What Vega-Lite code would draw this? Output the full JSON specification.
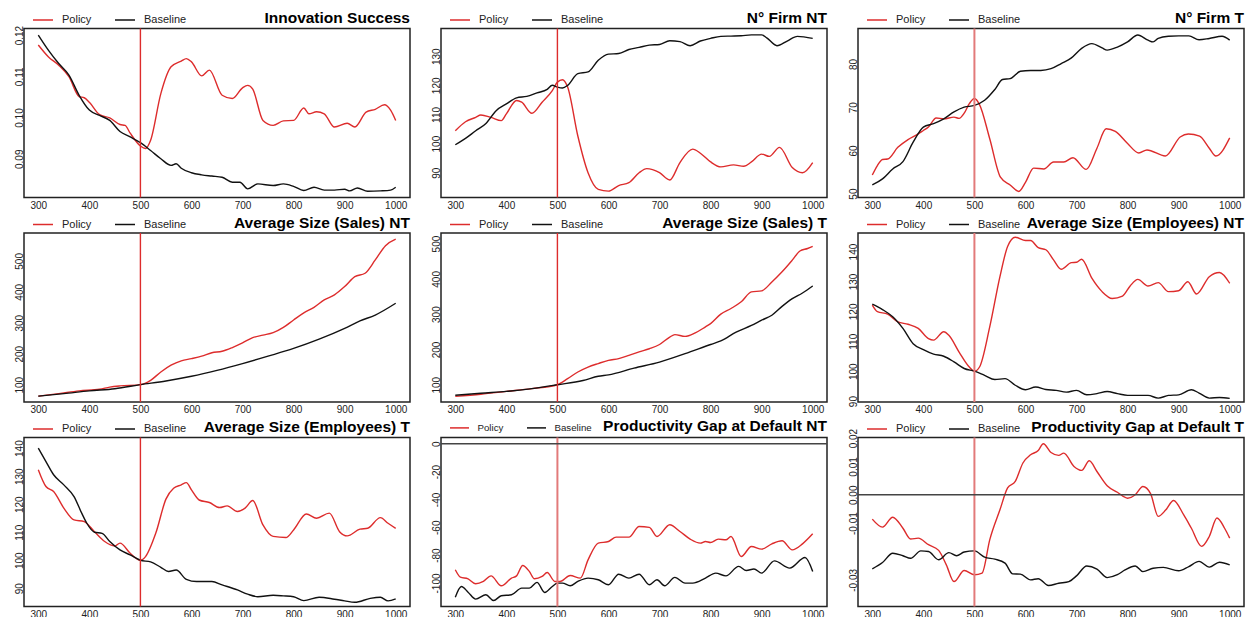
{
  "$schema": "https://vega.github.io/schema/vega-lite/v6.json",
  "background": "white",
  "autosize": {"type": "pad"},
  "padding": {"left": 13, "top": 7.5, "right": 0, "bottom": 0},
  "config": {
    "font": "Liberation Sans",
    "view": {"stroke": "#222222", "strokeWidth": 1.5},
    "axis": {"ticks": false, "domain": false, "grid": false, "labelFontSize": 10, "labelColor": "#222222", "labelFont": "Liberation Sans", "labelOverlap": false, "labelFlush": false},
    "axisX": {"labelPadding": 2.5, "format": "d"},
    "axisY": {"labelAngle": -90, "labelAlign": "center", "labelBaseline": "bottom", "labelPadding": 0},
    "legend": {"symbolType": "stroke", "symbolSize": 400, "symbolStrokeWidth": 1.5, "labelFontSize": 11, "labelFont": "Liberation Sans", "labelColor": "#222222", "labelOffset": 8, "columnPadding": 20, "padding": 0},
    "title": {"anchor": "end", "frame": "group", "fontSize": 15.5, "fontWeight": "bold", "font": "Liberation Sans", "color": "#000000", "offset": -17.5, "baseline": "alphabetic"}
  },
  "datasets": {
    "series": [
      {"p":1,"s":"Policy","t":300,"v":0.1176},{"p":1,"s":"Policy","t":320,"v":0.1147},{"p":1,"s":"Policy","t":340,"v":0.1127},{"p":1,"s":"Policy","t":360,"v":0.1099},{"p":1,"s":"Policy","t":380,"v":0.1051},{"p":1,"s":"Policy","t":390,"v":0.1048},{"p":1,"s":"Policy","t":400,"v":0.1037},{"p":1,"s":"Policy","t":420,"v":0.1007},{"p":1,"s":"Policy","t":440,"v":0.0999},{"p":1,"s":"Policy","t":460,"v":0.0983},{"p":1,"s":"Policy","t":470,"v":0.0981},{"p":1,"s":"Policy","t":480,"v":0.0962},{"p":1,"s":"Policy","t":500,"v":0.0931},{"p":1,"s":"Policy","t":510,"v":0.0925},{"p":1,"s":"Policy","t":520,"v":0.0945},{"p":1,"s":"Policy","t":540,"v":0.1058},{"p":1,"s":"Policy","t":560,"v":0.1123},{"p":1,"s":"Policy","t":580,"v":0.1137},{"p":1,"s":"Policy","t":590,"v":0.1143},{"p":1,"s":"Policy","t":600,"v":0.1135},{"p":1,"s":"Policy","t":620,"v":0.1101},{"p":1,"s":"Policy","t":635,"v":0.1115},{"p":1,"s":"Policy","t":660,"v":0.1054},{"p":1,"s":"Policy","t":680,"v":0.1046},{"p":1,"s":"Policy","t":700,"v":0.1072},{"p":1,"s":"Policy","t":710,"v":0.1078},{"p":1,"s":"Policy","t":720,"v":0.1069},{"p":1,"s":"Policy","t":740,"v":0.0993},{"p":1,"s":"Policy","t":760,"v":0.0981},{"p":1,"s":"Policy","t":780,"v":0.0992},{"p":1,"s":"Policy","t":800,"v":0.0993},{"p":1,"s":"Policy","t":820,"v":0.1023},{"p":1,"s":"Policy","t":830,"v":0.1009},{"p":1,"s":"Policy","t":845,"v":0.1014},{"p":1,"s":"Policy","t":860,"v":0.1009},{"p":1,"s":"Policy","t":880,"v":0.0977},{"p":1,"s":"Policy","t":905,"v":0.0986},{"p":1,"s":"Policy","t":920,"v":0.0977},{"p":1,"s":"Policy","t":942,"v":0.1013},{"p":1,"s":"Policy","t":960,"v":0.1020},{"p":1,"s":"Policy","t":978,"v":0.1031},{"p":1,"s":"Policy","t":990,"v":0.1018},{"p":1,"s":"Policy","t":1000,"v":0.0993},
      {"p":1,"s":"Baseline","t":300,"v":0.1200},{"p":1,"s":"Baseline","t":320,"v":0.1163},{"p":1,"s":"Baseline","t":340,"v":0.1131},{"p":1,"s":"Baseline","t":360,"v":0.1103},{"p":1,"s":"Baseline","t":380,"v":0.1054},{"p":1,"s":"Baseline","t":400,"v":0.1018},{"p":1,"s":"Baseline","t":420,"v":0.1005},{"p":1,"s":"Baseline","t":440,"v":0.0993},{"p":1,"s":"Baseline","t":460,"v":0.0966},{"p":1,"s":"Baseline","t":480,"v":0.0953},{"p":1,"s":"Baseline","t":500,"v":0.0939},{"p":1,"s":"Baseline","t":520,"v":0.0920},{"p":1,"s":"Baseline","t":540,"v":0.0900},{"p":1,"s":"Baseline","t":560,"v":0.0884},{"p":1,"s":"Baseline","t":570,"v":0.0888},{"p":1,"s":"Baseline","t":580,"v":0.0877},{"p":1,"s":"Baseline","t":600,"v":0.0866},{"p":1,"s":"Baseline","t":620,"v":0.0861},{"p":1,"s":"Baseline","t":640,"v":0.0858},{"p":1,"s":"Baseline","t":660,"v":0.0855},{"p":1,"s":"Baseline","t":680,"v":0.0843},{"p":1,"s":"Baseline","t":695,"v":0.0843},{"p":1,"s":"Baseline","t":710,"v":0.0827},{"p":1,"s":"Baseline","t":730,"v":0.0839},{"p":1,"s":"Baseline","t":760,"v":0.0835},{"p":1,"s":"Baseline","t":780,"v":0.0839},{"p":1,"s":"Baseline","t":800,"v":0.0833},{"p":1,"s":"Baseline","t":820,"v":0.0823},{"p":1,"s":"Baseline","t":840,"v":0.0831},{"p":1,"s":"Baseline","t":860,"v":0.0824},{"p":1,"s":"Baseline","t":880,"v":0.0824},{"p":1,"s":"Baseline","t":900,"v":0.0826},{"p":1,"s":"Baseline","t":910,"v":0.0822},{"p":1,"s":"Baseline","t":925,"v":0.0829},{"p":1,"s":"Baseline","t":945,"v":0.0821},{"p":1,"s":"Baseline","t":970,"v":0.0822},{"p":1,"s":"Baseline","t":990,"v":0.0824},{"p":1,"s":"Baseline","t":1000,"v":0.0831},

      {"p":2,"s":"Policy","t":300,"v":104.4},{"p":2,"s":"Policy","t":320,"v":107.5},{"p":2,"s":"Policy","t":340,"v":109.0},{"p":2,"s":"Policy","t":350,"v":109.8},{"p":2,"s":"Policy","t":370,"v":109.0},{"p":2,"s":"Policy","t":390,"v":107.9},{"p":2,"s":"Policy","t":400,"v":110.2},{"p":2,"s":"Policy","t":420,"v":114.8},{"p":2,"s":"Policy","t":430,"v":114.2},{"p":2,"s":"Policy","t":450,"v":110.4},{"p":2,"s":"Policy","t":470,"v":114.2},{"p":2,"s":"Policy","t":490,"v":118.2},{"p":2,"s":"Policy","t":500,"v":121.1},{"p":2,"s":"Policy","t":510,"v":121.9},{"p":2,"s":"Policy","t":520,"v":119.4},{"p":2,"s":"Policy","t":540,"v":102.6},{"p":2,"s":"Policy","t":560,"v":90.0},{"p":2,"s":"Policy","t":580,"v":84.3},{"p":2,"s":"Policy","t":600,"v":83.7},{"p":2,"s":"Policy","t":620,"v":85.6},{"p":2,"s":"Policy","t":640,"v":86.6},{"p":2,"s":"Policy","t":660,"v":90.0},{"p":2,"s":"Policy","t":675,"v":91.4},{"p":2,"s":"Policy","t":700,"v":90.0},{"p":2,"s":"Policy","t":720,"v":87.5},{"p":2,"s":"Policy","t":740,"v":93.5},{"p":2,"s":"Policy","t":765,"v":98.1},{"p":2,"s":"Policy","t":780,"v":96.7},{"p":2,"s":"Policy","t":800,"v":93.7},{"p":2,"s":"Policy","t":820,"v":92.0},{"p":2,"s":"Policy","t":845,"v":92.7},{"p":2,"s":"Policy","t":865,"v":92.2},{"p":2,"s":"Policy","t":880,"v":93.7},{"p":2,"s":"Policy","t":900,"v":96.4},{"p":2,"s":"Policy","t":915,"v":95.6},{"p":2,"s":"Policy","t":935,"v":98.7},{"p":2,"s":"Policy","t":960,"v":91.8},{"p":2,"s":"Policy","t":980,"v":90.0},{"p":2,"s":"Policy","t":1000,"v":93.5},
      {"p":2,"s":"Baseline","t":300,"v":99.6},{"p":2,"s":"Baseline","t":320,"v":101.8},{"p":2,"s":"Baseline","t":340,"v":104.4},{"p":2,"s":"Baseline","t":360,"v":106.9},{"p":2,"s":"Baseline","t":380,"v":111.3},{"p":2,"s":"Baseline","t":400,"v":113.6},{"p":2,"s":"Baseline","t":420,"v":115.7},{"p":2,"s":"Baseline","t":440,"v":116.2},{"p":2,"s":"Baseline","t":460,"v":117.4},{"p":2,"s":"Baseline","t":480,"v":118.6},{"p":2,"s":"Baseline","t":490,"v":120.0},{"p":2,"s":"Baseline","t":500,"v":119.4},{"p":2,"s":"Baseline","t":510,"v":119.1},{"p":2,"s":"Baseline","t":520,"v":120.0},{"p":2,"s":"Baseline","t":540,"v":124.0},{"p":2,"s":"Baseline","t":560,"v":124.6},{"p":2,"s":"Baseline","t":580,"v":128.6},{"p":2,"s":"Baseline","t":600,"v":130.7},{"p":2,"s":"Baseline","t":620,"v":130.9},{"p":2,"s":"Baseline","t":640,"v":132.3},{"p":2,"s":"Baseline","t":660,"v":133.0},{"p":2,"s":"Baseline","t":680,"v":133.8},{"p":2,"s":"Baseline","t":700,"v":134.0},{"p":2,"s":"Baseline","t":720,"v":135.3},{"p":2,"s":"Baseline","t":740,"v":135.0},{"p":2,"s":"Baseline","t":760,"v":133.6},{"p":2,"s":"Baseline","t":780,"v":135.2},{"p":2,"s":"Baseline","t":800,"v":136.1},{"p":2,"s":"Baseline","t":820,"v":136.8},{"p":2,"s":"Baseline","t":840,"v":136.9},{"p":2,"s":"Baseline","t":860,"v":137.0},{"p":2,"s":"Baseline","t":880,"v":137.3},{"p":2,"s":"Baseline","t":900,"v":137.3},{"p":2,"s":"Baseline","t":910,"v":136.3},{"p":2,"s":"Baseline","t":930,"v":133.6},{"p":2,"s":"Baseline","t":950,"v":135.2},{"p":2,"s":"Baseline","t":970,"v":136.8},{"p":2,"s":"Baseline","t":1000,"v":136.1},

      {"p":3,"s":"Policy","t":300,"v":54.3},{"p":3,"s":"Policy","t":310,"v":56.5},{"p":3,"s":"Policy","t":320,"v":57.9},{"p":3,"s":"Policy","t":330,"v":58.0},{"p":3,"s":"Policy","t":350,"v":60.7},{"p":3,"s":"Policy","t":370,"v":62.5},{"p":3,"s":"Policy","t":390,"v":63.8},{"p":3,"s":"Policy","t":400,"v":64.6},{"p":3,"s":"Policy","t":410,"v":65.4},{"p":3,"s":"Policy","t":425,"v":67.5},{"p":3,"s":"Policy","t":440,"v":67.3},{"p":3,"s":"Policy","t":460,"v":67.7},{"p":3,"s":"Policy","t":470,"v":67.4},{"p":3,"s":"Policy","t":480,"v":68.6},{"p":3,"s":"Policy","t":490,"v":70.8},{"p":3,"s":"Policy","t":500,"v":72.0},{"p":3,"s":"Policy","t":510,"v":70.6},{"p":3,"s":"Policy","t":530,"v":62.7},{"p":3,"s":"Policy","t":551,"v":53.8},{"p":3,"s":"Policy","t":570,"v":52.0},{"p":3,"s":"Policy","t":587,"v":50.5},{"p":3,"s":"Policy","t":600,"v":52.6},{"p":3,"s":"Policy","t":616,"v":55.9},{"p":3,"s":"Policy","t":636,"v":55.7},{"p":3,"s":"Policy","t":655,"v":57.3},{"p":3,"s":"Policy","t":675,"v":57.3},{"p":3,"s":"Policy","t":693,"v":58.3},{"p":3,"s":"Policy","t":719,"v":55.6},{"p":3,"s":"Policy","t":740,"v":60.5},{"p":3,"s":"Policy","t":758,"v":65.0},{"p":3,"s":"Policy","t":776,"v":64.4},{"p":3,"s":"Policy","t":800,"v":61.6},{"p":3,"s":"Policy","t":822,"v":59.4},{"p":3,"s":"Policy","t":838,"v":60.1},{"p":3,"s":"Policy","t":874,"v":58.7},{"p":3,"s":"Policy","t":903,"v":63.1},{"p":3,"s":"Policy","t":919,"v":63.8},{"p":3,"s":"Policy","t":941,"v":63.3},{"p":3,"s":"Policy","t":960,"v":60.5},{"p":3,"s":"Policy","t":973,"v":58.7},{"p":3,"s":"Policy","t":1000,"v":62.9},
      {"p":3,"s":"Baseline","t":300,"v":52.0},{"p":3,"s":"Baseline","t":320,"v":53.4},{"p":3,"s":"Baseline","t":340,"v":55.7},{"p":3,"s":"Baseline","t":360,"v":57.4},{"p":3,"s":"Baseline","t":380,"v":61.9},{"p":3,"s":"Baseline","t":400,"v":65.4},{"p":3,"s":"Baseline","t":420,"v":66.2},{"p":3,"s":"Baseline","t":440,"v":67.3},{"p":3,"s":"Baseline","t":460,"v":68.9},{"p":3,"s":"Baseline","t":480,"v":70.0},{"p":3,"s":"Baseline","t":500,"v":70.4},{"p":3,"s":"Baseline","t":520,"v":71.6},{"p":3,"s":"Baseline","t":540,"v":74.1},{"p":3,"s":"Baseline","t":555,"v":76.4},{"p":3,"s":"Baseline","t":570,"v":76.6},{"p":3,"s":"Baseline","t":590,"v":78.3},{"p":3,"s":"Baseline","t":610,"v":78.5},{"p":3,"s":"Baseline","t":630,"v":78.5},{"p":3,"s":"Baseline","t":650,"v":78.9},{"p":3,"s":"Baseline","t":670,"v":80.1},{"p":3,"s":"Baseline","t":690,"v":81.4},{"p":3,"s":"Baseline","t":710,"v":83.6},{"p":3,"s":"Baseline","t":730,"v":84.7},{"p":3,"s":"Baseline","t":750,"v":83.7},{"p":3,"s":"Baseline","t":760,"v":83.2},{"p":3,"s":"Baseline","t":780,"v":83.9},{"p":3,"s":"Baseline","t":800,"v":85.1},{"p":3,"s":"Baseline","t":820,"v":86.7},{"p":3,"s":"Baseline","t":840,"v":85.5},{"p":3,"s":"Baseline","t":850,"v":85.1},{"p":3,"s":"Baseline","t":860,"v":85.9},{"p":3,"s":"Baseline","t":880,"v":86.4},{"p":3,"s":"Baseline","t":900,"v":86.5},{"p":3,"s":"Baseline","t":920,"v":86.5},{"p":3,"s":"Baseline","t":940,"v":85.6},{"p":3,"s":"Baseline","t":960,"v":85.9},{"p":3,"s":"Baseline","t":985,"v":86.4},{"p":3,"s":"Baseline","t":1000,"v":85.5},

      {"p":4,"s":"Policy","t":300,"v":63},{"p":4,"s":"Policy","t":340,"v":71},{"p":4,"s":"Policy","t":380,"v":80},{"p":4,"s":"Policy","t":420,"v":85},{"p":4,"s":"Policy","t":440,"v":92},{"p":4,"s":"Policy","t":460,"v":96},{"p":4,"s":"Policy","t":500,"v":100},{"p":4,"s":"Policy","t":520,"v":114},{"p":4,"s":"Policy","t":540,"v":141},{"p":4,"s":"Policy","t":560,"v":163},{"p":4,"s":"Policy","t":580,"v":177},{"p":4,"s":"Policy","t":600,"v":184},{"p":4,"s":"Policy","t":620,"v":192},{"p":4,"s":"Policy","t":640,"v":203},{"p":4,"s":"Policy","t":660,"v":208},{"p":4,"s":"Policy","t":680,"v":220},{"p":4,"s":"Policy","t":700,"v":235},{"p":4,"s":"Policy","t":720,"v":252},{"p":4,"s":"Policy","t":740,"v":260},{"p":4,"s":"Policy","t":760,"v":268},{"p":4,"s":"Policy","t":780,"v":285},{"p":4,"s":"Policy","t":800,"v":309},{"p":4,"s":"Policy","t":820,"v":332},{"p":4,"s":"Policy","t":840,"v":350},{"p":4,"s":"Policy","t":860,"v":374},{"p":4,"s":"Policy","t":880,"v":390},{"p":4,"s":"Policy","t":900,"v":417},{"p":4,"s":"Policy","t":920,"v":449},{"p":4,"s":"Policy","t":940,"v":460},{"p":4,"s":"Policy","t":960,"v":503},{"p":4,"s":"Policy","t":980,"v":549},{"p":4,"s":"Policy","t":1000,"v":570},
      {"p":4,"s":"Baseline","t":300,"v":63},{"p":4,"s":"Baseline","t":350,"v":71},{"p":4,"s":"Baseline","t":400,"v":80},{"p":4,"s":"Baseline","t":450,"v":87},{"p":4,"s":"Baseline","t":500,"v":100},{"p":4,"s":"Baseline","t":550,"v":112},{"p":4,"s":"Baseline","t":600,"v":127},{"p":4,"s":"Baseline","t":650,"v":146},{"p":4,"s":"Baseline","t":700,"v":168},{"p":4,"s":"Baseline","t":750,"v":192},{"p":4,"s":"Baseline","t":800,"v":217},{"p":4,"s":"Baseline","t":850,"v":247},{"p":4,"s":"Baseline","t":900,"v":282},{"p":4,"s":"Baseline","t":930,"v":306},{"p":4,"s":"Baseline","t":960,"v":325},{"p":4,"s":"Baseline","t":1000,"v":363},

      {"p":5,"s":"Policy","t":300,"v":67},{"p":5,"s":"Policy","t":350,"v":73},{"p":5,"s":"Policy","t":400,"v":81},{"p":5,"s":"Policy","t":450,"v":89},{"p":5,"s":"Policy","t":500,"v":100},{"p":5,"s":"Policy","t":520,"v":117},{"p":5,"s":"Policy","t":540,"v":136},{"p":5,"s":"Policy","t":560,"v":150},{"p":5,"s":"Policy","t":580,"v":160},{"p":5,"s":"Policy","t":600,"v":169},{"p":5,"s":"Policy","t":620,"v":174},{"p":5,"s":"Policy","t":640,"v":183},{"p":5,"s":"Policy","t":660,"v":193},{"p":5,"s":"Policy","t":680,"v":202},{"p":5,"s":"Policy","t":700,"v":214},{"p":5,"s":"Policy","t":720,"v":235},{"p":5,"s":"Policy","t":730,"v":242},{"p":5,"s":"Policy","t":750,"v":237},{"p":5,"s":"Policy","t":770,"v":247},{"p":5,"s":"Policy","t":790,"v":264},{"p":5,"s":"Policy","t":800,"v":273},{"p":5,"s":"Policy","t":820,"v":300},{"p":5,"s":"Policy","t":840,"v":316},{"p":5,"s":"Policy","t":860,"v":335},{"p":5,"s":"Policy","t":880,"v":363},{"p":5,"s":"Policy","t":900,"v":366},{"p":5,"s":"Policy","t":920,"v":391},{"p":5,"s":"Policy","t":940,"v":420},{"p":5,"s":"Policy","t":960,"v":453},{"p":5,"s":"Policy","t":975,"v":479},{"p":5,"s":"Policy","t":990,"v":486},{"p":5,"s":"Policy","t":1000,"v":492},
      {"p":5,"s":"Baseline","t":300,"v":70},{"p":5,"s":"Baseline","t":350,"v":76},{"p":5,"s":"Baseline","t":400,"v":81},{"p":5,"s":"Baseline","t":450,"v":89},{"p":5,"s":"Baseline","t":500,"v":100},{"p":5,"s":"Baseline","t":550,"v":112},{"p":5,"s":"Baseline","t":580,"v":124},{"p":5,"s":"Baseline","t":600,"v":128},{"p":5,"s":"Baseline","t":650,"v":147},{"p":5,"s":"Baseline","t":700,"v":164},{"p":5,"s":"Baseline","t":750,"v":188},{"p":5,"s":"Baseline","t":800,"v":214},{"p":5,"s":"Baseline","t":820,"v":224},{"p":5,"s":"Baseline","t":850,"v":249},{"p":5,"s":"Baseline","t":880,"v":268},{"p":5,"s":"Baseline","t":900,"v":283},{"p":5,"s":"Baseline","t":920,"v":297},{"p":5,"s":"Baseline","t":940,"v":322},{"p":5,"s":"Baseline","t":960,"v":344},{"p":5,"s":"Baseline","t":980,"v":360},{"p":5,"s":"Baseline","t":1000,"v":380},

      {"p":6,"s":"Policy","t":300,"v":122.1},{"p":6,"s":"Policy","t":310,"v":119.9},{"p":6,"s":"Policy","t":330,"v":119.1},{"p":6,"s":"Policy","t":350,"v":116.5},{"p":6,"s":"Policy","t":370,"v":115.7},{"p":6,"s":"Policy","t":390,"v":114.3},{"p":6,"s":"Policy","t":410,"v":110.9},{"p":6,"s":"Policy","t":420,"v":110.4},{"p":6,"s":"Policy","t":440,"v":113.2},{"p":6,"s":"Policy","t":450,"v":112.0},{"p":6,"s":"Policy","t":470,"v":106.4},{"p":6,"s":"Policy","t":490,"v":101.4},{"p":6,"s":"Policy","t":500,"v":100.0},{"p":6,"s":"Policy","t":510,"v":101.4},{"p":6,"s":"Policy","t":530,"v":114.8},{"p":6,"s":"Policy","t":550,"v":131.6},{"p":6,"s":"Policy","t":565,"v":141.7},{"p":6,"s":"Policy","t":580,"v":144.8},{"p":6,"s":"Policy","t":600,"v":143.7},{"p":6,"s":"Policy","t":610,"v":143.7},{"p":6,"s":"Policy","t":625,"v":141.3},{"p":6,"s":"Policy","t":640,"v":140.6},{"p":6,"s":"Policy","t":655,"v":137.2},{"p":6,"s":"Policy","t":670,"v":134.1},{"p":6,"s":"Policy","t":690,"v":136.3},{"p":6,"s":"Policy","t":700,"v":136.4},{"p":6,"s":"Policy","t":710,"v":137.4},{"p":6,"s":"Policy","t":730,"v":131.1},{"p":6,"s":"Policy","t":750,"v":126.6},{"p":6,"s":"Policy","t":770,"v":124.3},{"p":6,"s":"Policy","t":790,"v":125.1},{"p":6,"s":"Policy","t":805,"v":128.5},{"p":6,"s":"Policy","t":820,"v":130.7},{"p":6,"s":"Policy","t":840,"v":128.5},{"p":6,"s":"Policy","t":860,"v":129.6},{"p":6,"s":"Policy","t":880,"v":126.6},{"p":6,"s":"Policy","t":900,"v":126.9},{"p":6,"s":"Policy","t":918,"v":129.9},{"p":6,"s":"Policy","t":935,"v":125.8},{"p":6,"s":"Policy","t":960,"v":131.6},{"p":6,"s":"Policy","t":980,"v":133.0},{"p":6,"s":"Policy","t":1000,"v":129.4},
      {"p":6,"s":"Baseline","t":300,"v":122.4},{"p":6,"s":"Baseline","t":320,"v":120.6},{"p":6,"s":"Baseline","t":340,"v":118.2},{"p":6,"s":"Baseline","t":360,"v":114.3},{"p":6,"s":"Baseline","t":380,"v":109.2},{"p":6,"s":"Baseline","t":400,"v":107.2},{"p":6,"s":"Baseline","t":420,"v":105.7},{"p":6,"s":"Baseline","t":440,"v":105.0},{"p":6,"s":"Baseline","t":460,"v":103.1},{"p":6,"s":"Baseline","t":480,"v":100.9},{"p":6,"s":"Baseline","t":500,"v":100.0},{"p":6,"s":"Baseline","t":520,"v":98.6},{"p":6,"s":"Baseline","t":540,"v":97.2},{"p":6,"s":"Baseline","t":560,"v":97.5},{"p":6,"s":"Baseline","t":580,"v":95.3},{"p":6,"s":"Baseline","t":600,"v":93.8},{"p":6,"s":"Baseline","t":620,"v":94.7},{"p":6,"s":"Baseline","t":640,"v":93.9},{"p":6,"s":"Baseline","t":660,"v":93.6},{"p":6,"s":"Baseline","t":680,"v":93.0},{"p":6,"s":"Baseline","t":700,"v":93.6},{"p":6,"s":"Baseline","t":720,"v":92.1},{"p":6,"s":"Baseline","t":740,"v":92.5},{"p":6,"s":"Baseline","t":760,"v":93.2},{"p":6,"s":"Baseline","t":780,"v":92.5},{"p":6,"s":"Baseline","t":800,"v":91.9},{"p":6,"s":"Baseline","t":820,"v":91.9},{"p":6,"s":"Baseline","t":840,"v":91.9},{"p":6,"s":"Baseline","t":860,"v":91.0},{"p":6,"s":"Baseline","t":880,"v":91.9},{"p":6,"s":"Baseline","t":900,"v":92.1},{"p":6,"s":"Baseline","t":925,"v":93.8},{"p":6,"s":"Baseline","t":940,"v":92.7},{"p":6,"s":"Baseline","t":960,"v":91.0},{"p":6,"s":"Baseline","t":980,"v":91.2},{"p":6,"s":"Baseline","t":1000,"v":90.9},

      {"p":7,"s":"Policy","t":300,"v":132.3},{"p":7,"s":"Policy","t":315,"v":126.3},{"p":7,"s":"Policy","t":330,"v":124.5},{"p":7,"s":"Policy","t":350,"v":118.6},{"p":7,"s":"Policy","t":370,"v":114.4},{"p":7,"s":"Policy","t":390,"v":113.8},{"p":7,"s":"Policy","t":410,"v":110.2},{"p":7,"s":"Policy","t":430,"v":106.7},{"p":7,"s":"Policy","t":450,"v":105.1},{"p":7,"s":"Policy","t":460,"v":106.1},{"p":7,"s":"Policy","t":480,"v":102.5},{"p":7,"s":"Policy","t":500,"v":100.0},{"p":7,"s":"Policy","t":510,"v":101.3},{"p":7,"s":"Policy","t":530,"v":109.6},{"p":7,"s":"Policy","t":550,"v":121.8},{"p":7,"s":"Policy","t":565,"v":125.7},{"p":7,"s":"Policy","t":580,"v":126.9},{"p":7,"s":"Policy","t":590,"v":127.7},{"p":7,"s":"Policy","t":600,"v":125.1},{"p":7,"s":"Policy","t":615,"v":121.5},{"p":7,"s":"Policy","t":635,"v":120.6},{"p":7,"s":"Policy","t":655,"v":118.8},{"p":7,"s":"Policy","t":670,"v":119.4},{"p":7,"s":"Policy","t":690,"v":117.4},{"p":7,"s":"Policy","t":705,"v":118.6},{"p":7,"s":"Policy","t":720,"v":121.3},{"p":7,"s":"Policy","t":740,"v":112.6},{"p":7,"s":"Policy","t":760,"v":108.5},{"p":7,"s":"Policy","t":785,"v":108.1},{"p":7,"s":"Policy","t":800,"v":110.8},{"p":7,"s":"Policy","t":825,"v":116.5},{"p":7,"s":"Policy","t":845,"v":115.0},{"p":7,"s":"Policy","t":870,"v":116.8},{"p":7,"s":"Policy","t":890,"v":110.2},{"p":7,"s":"Policy","t":905,"v":108.7},{"p":7,"s":"Policy","t":930,"v":111.1},{"p":7,"s":"Policy","t":945,"v":111.4},{"p":7,"s":"Policy","t":970,"v":115.2},{"p":7,"s":"Policy","t":985,"v":113.2},{"p":7,"s":"Policy","t":1000,"v":111.4},
      {"p":7,"s":"Baseline","t":300,"v":140.0},{"p":7,"s":"Baseline","t":315,"v":135.2},{"p":7,"s":"Baseline","t":330,"v":130.5},{"p":7,"s":"Baseline","t":350,"v":126.9},{"p":7,"s":"Baseline","t":370,"v":122.7},{"p":7,"s":"Baseline","t":385,"v":116.8},{"p":7,"s":"Baseline","t":395,"v":113.2},{"p":7,"s":"Baseline","t":410,"v":110.0},{"p":7,"s":"Baseline","t":425,"v":109.6},{"p":7,"s":"Baseline","t":440,"v":106.7},{"p":7,"s":"Baseline","t":460,"v":103.7},{"p":7,"s":"Baseline","t":480,"v":101.9},{"p":7,"s":"Baseline","t":500,"v":100.0},{"p":7,"s":"Baseline","t":520,"v":99.4},{"p":7,"s":"Baseline","t":540,"v":97.5},{"p":7,"s":"Baseline","t":555,"v":96.0},{"p":7,"s":"Baseline","t":570,"v":96.5},{"p":7,"s":"Baseline","t":590,"v":93.2},{"p":7,"s":"Baseline","t":610,"v":92.4},{"p":7,"s":"Baseline","t":640,"v":92.4},{"p":7,"s":"Baseline","t":660,"v":91.2},{"p":7,"s":"Baseline","t":690,"v":89.4},{"p":7,"s":"Baseline","t":710,"v":87.9},{"p":7,"s":"Baseline","t":730,"v":87.0},{"p":7,"s":"Baseline","t":760,"v":87.5},{"p":7,"s":"Baseline","t":780,"v":87.3},{"p":7,"s":"Baseline","t":800,"v":87.0},{"p":7,"s":"Baseline","t":820,"v":85.6},{"p":7,"s":"Baseline","t":850,"v":86.8},{"p":7,"s":"Baseline","t":880,"v":86.1},{"p":7,"s":"Baseline","t":900,"v":85.5},{"p":7,"s":"Baseline","t":920,"v":85.0},{"p":7,"s":"Baseline","t":950,"v":86.4},{"p":7,"s":"Baseline","t":970,"v":86.8},{"p":7,"s":"Baseline","t":985,"v":85.5},{"p":7,"s":"Baseline","t":1000,"v":86.2},

      {"p":8,"s":"Policy","t":300,"v":-90.5},{"p":8,"s":"Policy","t":310,"v":-95.8},{"p":8,"s":"Policy","t":325,"v":-97.0},{"p":8,"s":"Policy","t":340,"v":-100.6},{"p":8,"s":"Policy","t":355,"v":-98.9},{"p":8,"s":"Policy","t":370,"v":-94.9},{"p":8,"s":"Policy","t":390,"v":-102.0},{"p":8,"s":"Policy","t":410,"v":-96.5},{"p":8,"s":"Policy","t":420,"v":-94.9},{"p":8,"s":"Policy","t":432,"v":-87.4},{"p":8,"s":"Policy","t":445,"v":-91.7},{"p":8,"s":"Policy","t":455,"v":-97.0},{"p":8,"s":"Policy","t":470,"v":-95.3},{"p":8,"s":"Policy","t":480,"v":-92.5},{"p":8,"s":"Policy","t":495,"v":-98.9},{"p":8,"s":"Policy","t":505,"v":-98.9},{"p":8,"s":"Policy","t":525,"v":-94.6},{"p":8,"s":"Policy","t":545,"v":-96.5},{"p":8,"s":"Policy","t":560,"v":-83.4},{"p":8,"s":"Policy","t":580,"v":-71.4},{"p":8,"s":"Policy","t":600,"v":-70.2},{"p":8,"s":"Policy","t":615,"v":-67.1},{"p":8,"s":"Policy","t":640,"v":-67.1},{"p":8,"s":"Policy","t":660,"v":-59.4},{"p":8,"s":"Policy","t":680,"v":-60.1},{"p":8,"s":"Policy","t":695,"v":-66.6},{"p":8,"s":"Policy","t":720,"v":-58.2},{"p":8,"s":"Policy","t":740,"v":-63.0},{"p":8,"s":"Policy","t":760,"v":-68.5},{"p":8,"s":"Policy","t":780,"v":-71.4},{"p":8,"s":"Policy","t":790,"v":-70.2},{"p":8,"s":"Policy","t":800,"v":-70.9},{"p":8,"s":"Policy","t":815,"v":-68.5},{"p":8,"s":"Policy","t":830,"v":-69.0},{"p":8,"s":"Policy","t":840,"v":-66.6},{"p":8,"s":"Policy","t":860,"v":-81.0},{"p":8,"s":"Policy","t":880,"v":-73.8},{"p":8,"s":"Policy","t":900,"v":-75.7},{"p":8,"s":"Policy","t":920,"v":-71.9},{"p":8,"s":"Policy","t":940,"v":-69.7},{"p":8,"s":"Policy","t":960,"v":-76.2},{"p":8,"s":"Policy","t":980,"v":-71.9},{"p":8,"s":"Policy","t":1000,"v":-64.7},
      {"p":8,"s":"Baseline","t":300,"v":-110.2},{"p":8,"s":"Baseline","t":312,"v":-102.5},{"p":8,"s":"Baseline","t":325,"v":-106.6},{"p":8,"s":"Baseline","t":340,"v":-111.6},{"p":8,"s":"Baseline","t":360,"v":-108.5},{"p":8,"s":"Baseline","t":375,"v":-112.6},{"p":8,"s":"Baseline","t":390,"v":-109.2},{"p":8,"s":"Baseline","t":410,"v":-108.5},{"p":8,"s":"Baseline","t":430,"v":-103.7},{"p":8,"s":"Baseline","t":445,"v":-103.7},{"p":8,"s":"Baseline","t":460,"v":-99.6},{"p":8,"s":"Baseline","t":475,"v":-106.8},{"p":8,"s":"Baseline","t":490,"v":-102.5},{"p":8,"s":"Baseline","t":500,"v":-100.1},{"p":8,"s":"Baseline","t":510,"v":-100.1},{"p":8,"s":"Baseline","t":525,"v":-102.0},{"p":8,"s":"Baseline","t":540,"v":-98.9},{"p":8,"s":"Baseline","t":560,"v":-96.5},{"p":8,"s":"Baseline","t":580,"v":-97.7},{"p":8,"s":"Baseline","t":600,"v":-101.3},{"p":8,"s":"Baseline","t":620,"v":-93.7},{"p":8,"s":"Baseline","t":640,"v":-96.5},{"p":8,"s":"Baseline","t":660,"v":-93.7},{"p":8,"s":"Baseline","t":680,"v":-101.3},{"p":8,"s":"Baseline","t":695,"v":-97.7},{"p":8,"s":"Baseline","t":710,"v":-102.0},{"p":8,"s":"Baseline","t":730,"v":-96.0},{"p":8,"s":"Baseline","t":750,"v":-100.1},{"p":8,"s":"Baseline","t":765,"v":-100.1},{"p":8,"s":"Baseline","t":790,"v":-96.5},{"p":8,"s":"Baseline","t":810,"v":-92.9},{"p":8,"s":"Baseline","t":830,"v":-94.9},{"p":8,"s":"Baseline","t":855,"v":-88.1},{"p":8,"s":"Baseline","t":870,"v":-91.0},{"p":8,"s":"Baseline","t":885,"v":-90.0},{"p":8,"s":"Baseline","t":900,"v":-92.9},{"p":8,"s":"Baseline","t":925,"v":-84.1},{"p":8,"s":"Baseline","t":955,"v":-89.3},{"p":8,"s":"Baseline","t":985,"v":-81.7},{"p":8,"s":"Baseline","t":1000,"v":-91.7},

      {"p":9,"s":"Policy","t":300,"v":-0.0086},{"p":9,"s":"Policy","t":320,"v":-0.0114},{"p":9,"s":"Policy","t":340,"v":-0.0079},{"p":9,"s":"Policy","t":360,"v":-0.0118},{"p":9,"s":"Policy","t":375,"v":-0.0156},{"p":9,"s":"Policy","t":390,"v":-0.0153},{"p":9,"s":"Policy","t":410,"v":-0.0176},{"p":9,"s":"Policy","t":430,"v":-0.0196},{"p":9,"s":"Policy","t":445,"v":-0.0247},{"p":9,"s":"Policy","t":460,"v":-0.0306},{"p":9,"s":"Policy","t":480,"v":-0.0267},{"p":9,"s":"Policy","t":500,"v":-0.0282},{"p":9,"s":"Policy","t":515,"v":-0.0276},{"p":9,"s":"Policy","t":530,"v":-0.0159},{"p":9,"s":"Policy","t":550,"v":-0.0053},{"p":9,"s":"Policy","t":565,"v":0.0024},{"p":9,"s":"Policy","t":580,"v":0.0047},{"p":9,"s":"Policy","t":595,"v":0.0112},{"p":9,"s":"Policy","t":610,"v":0.0141},{"p":9,"s":"Policy","t":625,"v":0.0156},{"p":9,"s":"Policy","t":635,"v":0.0180},{"p":9,"s":"Policy","t":650,"v":0.0149},{"p":9,"s":"Policy","t":665,"v":0.0139},{"p":9,"s":"Policy","t":675,"v":0.0147},{"p":9,"s":"Policy","t":695,"v":0.0100},{"p":9,"s":"Policy","t":710,"v":0.0086},{"p":9,"s":"Policy","t":725,"v":0.0120},{"p":9,"s":"Policy","t":740,"v":0.0082},{"p":9,"s":"Policy","t":760,"v":0.0032},{"p":9,"s":"Policy","t":780,"v":0.0009},{"p":9,"s":"Policy","t":800,"v":-0.0012},{"p":9,"s":"Policy","t":815,"v":0.0000},{"p":9,"s":"Policy","t":830,"v":0.0029},{"p":9,"s":"Policy","t":845,"v":0.0004},{"p":9,"s":"Policy","t":860,"v":-0.0076},{"p":9,"s":"Policy","t":875,"v":-0.0053},{"p":9,"s":"Policy","t":890,"v":-0.0020},{"p":9,"s":"Policy","t":910,"v":-0.0071},{"p":9,"s":"Policy","t":925,"v":-0.0118},{"p":9,"s":"Policy","t":945,"v":-0.0182},{"p":9,"s":"Policy","t":960,"v":-0.0147},{"p":9,"s":"Policy","t":975,"v":-0.0082},{"p":9,"s":"Policy","t":990,"v":-0.0118},{"p":9,"s":"Policy","t":1000,"v":-0.0153},
      {"p":9,"s":"Baseline","t":300,"v":-0.0261},{"p":9,"s":"Baseline","t":320,"v":-0.0239},{"p":9,"s":"Baseline","t":340,"v":-0.0206},{"p":9,"s":"Baseline","t":360,"v":-0.0215},{"p":9,"s":"Baseline","t":375,"v":-0.0224},{"p":9,"s":"Baseline","t":395,"v":-0.0198},{"p":9,"s":"Baseline","t":410,"v":-0.0200},{"p":9,"s":"Baseline","t":430,"v":-0.0229},{"p":9,"s":"Baseline","t":450,"v":-0.0204},{"p":9,"s":"Baseline","t":465,"v":-0.0215},{"p":9,"s":"Baseline","t":480,"v":-0.0202},{"p":9,"s":"Baseline","t":500,"v":-0.0198},{"p":9,"s":"Baseline","t":520,"v":-0.0220},{"p":9,"s":"Baseline","t":540,"v":-0.0227},{"p":9,"s":"Baseline","t":560,"v":-0.0241},{"p":9,"s":"Baseline","t":575,"v":-0.0279},{"p":9,"s":"Baseline","t":590,"v":-0.0280},{"p":9,"s":"Baseline","t":610,"v":-0.0300},{"p":9,"s":"Baseline","t":625,"v":-0.0296},{"p":9,"s":"Baseline","t":645,"v":-0.0320},{"p":9,"s":"Baseline","t":665,"v":-0.0312},{"p":9,"s":"Baseline","t":685,"v":-0.0306},{"p":9,"s":"Baseline","t":700,"v":-0.0286},{"p":9,"s":"Baseline","t":720,"v":-0.0251},{"p":9,"s":"Baseline","t":740,"v":-0.0262},{"p":9,"s":"Baseline","t":760,"v":-0.0292},{"p":9,"s":"Baseline","t":780,"v":-0.0282},{"p":9,"s":"Baseline","t":795,"v":-0.0265},{"p":9,"s":"Baseline","t":815,"v":-0.0251},{"p":9,"s":"Baseline","t":830,"v":-0.0271},{"p":9,"s":"Baseline","t":850,"v":-0.0259},{"p":9,"s":"Baseline","t":870,"v":-0.0256},{"p":9,"s":"Baseline","t":900,"v":-0.0268},{"p":9,"s":"Baseline","t":920,"v":-0.0253},{"p":9,"s":"Baseline","t":940,"v":-0.0235},{"p":9,"s":"Baseline","t":960,"v":-0.0255},{"p":9,"s":"Baseline","t":980,"v":-0.0238},{"p":9,"s":"Baseline","t":1000,"v":-0.0247}
    ]
  },
  "columns": 3,
  "bounds": "flush",
  "spacing": {"row": 35.5, "column": 31},
  "resolve": {"scale": {"x": "independent", "y": "independent", "color": "independent"}, "legend": {"color": "independent"}},
  "concat": [
    {
      "width": 386, "height": 169,
      "title": "Innovation Success",
      "layer": [
        {"data": {"name": "series"}, "transform": [{"filter": "datum.p == 1"}],
         "mark": {"type": "line", "interpolate": "monotone", "strokeWidth": 1.4},
         "encoding": {
           "x": {"field": "t", "type": "quantitative", "title": null, "scale": {"domain": [272, 1028], "nice": false, "zero": false}, "axis": {"values": [300, 400, 500, 600, 700, 800, 900, 1000]}},
           "y": {"field": "v", "type": "quantitative", "title": null, "scale": {"domain": [0.0806, 0.1216], "nice": false, "zero": false}, "axis": {"values": [0.09, 0.10, 0.11, 0.12], "format": ".2f", "labelOverlap": false}},
           "color": {"field": "s", "type": "nominal", "scale": {"domain": ["Policy", "Baseline"], "range": ["#DD2C2C", "#111111"]}, "legend": {"title": null, "orient": "none", "legendX": 8, "legendY": -19.5, "direction": "horizontal"}}
         }},
        {"data": {"values": [{"t": 500}]},
         "mark": {"type": "rule", "color": "#DD2C2C", "strokeWidth": 1.4},
         "encoding": {"x": {"field": "t", "type": "quantitative", "title": null, "scale": {"domain": [272, 1028], "nice": false, "zero": false}}}}
      ]
    },
    {
      "width": 386, "height": 169,
      "title": "N° Firm NT",
      "layer": [
        {"data": {"name": "series"}, "transform": [{"filter": "datum.p == 2"}],
         "mark": {"type": "line", "interpolate": "monotone", "strokeWidth": 1.4},
         "encoding": {
           "x": {"field": "t", "type": "quantitative", "title": null, "scale": {"domain": [272, 1028], "nice": false, "zero": false}, "axis": {"values": [300, 400, 500, 600, 700, 800, 900, 1000]}},
           "y": {"field": "v", "type": "quantitative", "title": null, "scale": {"domain": [81.5, 139.5], "nice": false, "zero": false}, "axis": {"values": [90, 100, 110, 120, 130], "labelOverlap": false}},
           "color": {"field": "s", "type": "nominal", "scale": {"domain": ["Policy", "Baseline"], "range": ["#DD2C2C", "#111111"]}, "legend": {"title": null, "orient": "none", "legendX": 8, "legendY": -19.5, "direction": "horizontal"}}
         }},
        {"data": {"values": [{"t": 500}]},
         "mark": {"type": "rule", "color": "#DD2C2C", "strokeWidth": 1.4},
         "encoding": {"x": {"field": "t", "type": "quantitative", "title": null, "scale": {"domain": [272, 1028], "nice": false, "zero": false}}}}
      ]
    },
    {
      "width": 386, "height": 169,
      "title": "N° Firm T",
      "layer": [
        {"data": {"name": "series"}, "transform": [{"filter": "datum.p == 3"}],
         "mark": {"type": "line", "interpolate": "monotone", "strokeWidth": 1.4},
         "encoding": {
           "x": {"field": "t", "type": "quantitative", "title": null, "scale": {"domain": [272, 1028], "nice": false, "zero": false}, "axis": {"values": [300, 400, 500, 600, 700, 800, 900, 1000]}},
           "y": {"field": "v", "type": "quantitative", "title": null, "scale": {"domain": [49.1, 88.2], "nice": false, "zero": false}, "axis": {"values": [50, 60, 70, 80], "labelOverlap": false}},
           "color": {"field": "s", "type": "nominal", "scale": {"domain": ["Policy", "Baseline"], "range": ["#DD2C2C", "#111111"]}, "legend": {"title": null, "orient": "none", "legendX": 8, "legendY": -19.5, "direction": "horizontal"}}
         }},
        {"data": {"values": [{"t": 500}]},
         "mark": {"type": "rule", "color": "#E27A7A", "strokeWidth": 2},
         "encoding": {"x": {"field": "t", "type": "quantitative", "title": null, "scale": {"domain": [272, 1028], "nice": false, "zero": false}}}}
      ]
    },
    {
      "width": 386, "height": 169,
      "title": "Average Size (Sales) NT",
      "layer": [
        {"data": {"name": "series"}, "transform": [{"filter": "datum.p == 4"}],
         "mark": {"type": "line", "interpolate": "monotone", "strokeWidth": 1.4},
         "encoding": {
           "x": {"field": "t", "type": "quantitative", "title": null, "scale": {"domain": [272, 1028], "nice": false, "zero": false}, "axis": {"values": [300, 400, 500, 600, 700, 800, 900, 1000]}},
           "y": {"field": "v", "type": "quantitative", "title": null, "scale": {"domain": [44, 590], "nice": false, "zero": false}, "axis": {"values": [100, 200, 300, 400, 500], "labelOverlap": false}},
           "color": {"field": "s", "type": "nominal", "scale": {"domain": ["Policy", "Baseline"], "range": ["#DD2C2C", "#111111"]}, "legend": {"title": null, "orient": "none", "legendX": 8, "legendY": -19.5, "direction": "horizontal"}}
         }},
        {"data": {"values": [{"t": 500}]},
         "mark": {"type": "rule", "color": "#DD2C2C", "strokeWidth": 1.4},
         "encoding": {"x": {"field": "t", "type": "quantitative", "title": null, "scale": {"domain": [272, 1028], "nice": false, "zero": false}}}}
      ]
    },
    {
      "width": 386, "height": 169,
      "title": "Average Size (Sales) T",
      "layer": [
        {"data": {"name": "series"}, "transform": [{"filter": "datum.p == 5"}],
         "mark": {"type": "line", "interpolate": "monotone", "strokeWidth": 1.4},
         "encoding": {
           "x": {"field": "t", "type": "quantitative", "title": null, "scale": {"domain": [272, 1028], "nice": false, "zero": false}, "axis": {"values": [300, 400, 500, 600, 700, 800, 900, 1000]}},
           "y": {"field": "v", "type": "quantitative", "title": null, "scale": {"domain": [51, 530], "nice": false, "zero": false}, "axis": {"values": [100, 200, 300, 400, 500], "labelOverlap": false}},
           "color": {"field": "s", "type": "nominal", "scale": {"domain": ["Policy", "Baseline"], "range": ["#DD2C2C", "#111111"]}, "legend": {"title": null, "orient": "none", "legendX": 8, "legendY": -19.5, "direction": "horizontal"}}
         }},
        {"data": {"values": [{"t": 500}]},
         "mark": {"type": "rule", "color": "#DD2C2C", "strokeWidth": 1.4},
         "encoding": {"x": {"field": "t", "type": "quantitative", "title": null, "scale": {"domain": [272, 1028], "nice": false, "zero": false}}}}
      ]
    },
    {
      "width": 386, "height": 169,
      "title": "Average Size (Employees) NT",
      "layer": [
        {"data": {"name": "series"}, "transform": [{"filter": "datum.p == 6"}],
         "mark": {"type": "line", "interpolate": "monotone", "strokeWidth": 1.4},
         "encoding": {
           "x": {"field": "t", "type": "quantitative", "title": null, "scale": {"domain": [272, 1028], "nice": false, "zero": false}, "axis": {"values": [300, 400, 500, 600, 700, 800, 900, 1000]}},
           "y": {"field": "v", "type": "quantitative", "title": null, "scale": {"domain": [89.7, 146.2], "nice": false, "zero": false}, "axis": {"values": [90, 100, 110, 120, 130, 140], "labelOverlap": false}},
           "color": {"field": "s", "type": "nominal", "scale": {"domain": ["Policy", "Baseline"], "range": ["#DD2C2C", "#111111"]}, "legend": {"title": null, "orient": "none", "legendX": 8, "legendY": -19.5, "direction": "horizontal"}}
         }},
        {"data": {"values": [{"t": 500}]},
         "mark": {"type": "rule", "color": "#E27A7A", "strokeWidth": 2},
         "encoding": {"x": {"field": "t", "type": "quantitative", "title": null, "scale": {"domain": [272, 1028], "nice": false, "zero": false}}}}
      ]
    },
    {
      "width": 386, "height": 169,
      "title": "Average Size (Employees) T",
      "layer": [
        {"data": {"name": "series"}, "transform": [{"filter": "datum.p == 7"}],
         "mark": {"type": "line", "interpolate": "monotone", "strokeWidth": 1.4},
         "encoding": {
           "x": {"field": "t", "type": "quantitative", "title": null, "scale": {"domain": [272, 1028], "nice": false, "zero": false}, "axis": {"values": [300, 400, 500, 600, 700, 800, 900, 1000]}},
           "y": {"field": "v", "type": "quantitative", "title": null, "scale": {"domain": [83.5, 143.8], "nice": false, "zero": false}, "axis": {"values": [90, 100, 110, 120, 130, 140], "labelOverlap": false}},
           "color": {"field": "s", "type": "nominal", "scale": {"domain": ["Policy", "Baseline"], "range": ["#DD2C2C", "#111111"]}, "legend": {"title": null, "orient": "none", "legendX": 8, "legendY": -19.5, "direction": "horizontal"}}
         }},
        {"data": {"values": [{"t": 500}]},
         "mark": {"type": "rule", "color": "#DD2C2C", "strokeWidth": 1.4},
         "encoding": {"x": {"field": "t", "type": "quantitative", "title": null, "scale": {"domain": [272, 1028], "nice": false, "zero": false}}}}
      ]
    },
    {
      "width": 386, "height": 169,
      "title": "Productivity Gap at Default NT",
      "layer": [
        {"data": {"name": "series"}, "transform": [{"filter": "datum.p == 8"}],
         "mark": {"type": "line", "interpolate": "monotone", "strokeWidth": 1.4},
         "encoding": {
           "x": {"field": "t", "type": "quantitative", "title": null, "scale": {"domain": [272, 1028], "nice": false, "zero": false}, "axis": {"values": [300, 400, 500, 600, 700, 800, 900, 1000]}},
           "y": {"field": "v", "type": "quantitative", "title": null, "scale": {"domain": [-116.9, 4.5], "nice": false, "zero": false}, "axis": {"values": [-100, -80, -60, -40, -20, 0], "format": "d", "labelOverlap": false, "labelSeparation": -8, "labelExpr": "(datum.value < 0 ? '-' : '') + format(abs(datum.value), 'd')"}},
           "color": {"field": "s", "type": "nominal", "scale": {"domain": ["Policy", "Baseline"], "range": ["#DD2C2C", "#111111"]}, "legend": {"title": null, "orient": "none", "legendX": 8, "legendY": -20.5, "direction": "horizontal", "labelFontSize": 9.7, "symbolSize": 361, "labelOffset": 7.5, "columnPadding": 20}}
         }},
        {"data": {"values": [{"t": 500}]},
         "mark": {"type": "rule", "color": "#E27A7A", "strokeWidth": 2},
         "encoding": {"x": {"field": "t", "type": "quantitative", "title": null, "scale": {"domain": [272, 1028], "nice": false, "zero": false}}}},
        {"data": {"values": [{"v": 0}]},
         "mark": {"type": "rule", "color": "#444444", "strokeWidth": 1.6},
         "encoding": {"y": {"field": "v", "type": "quantitative", "title": null, "scale": {"domain": [-116.9, 4.5], "nice": false, "zero": false}, "axis": {"values": [-100, -80, -60, -40, -20, 0], "format": "d", "labelOverlap": false, "labelSeparation": -8, "labelExpr": "(datum.value < 0 ? '-' : '') + format(abs(datum.value), 'd')"}}}}
      ]
    },
    {
      "width": 386, "height": 169,
      "title": "Productivity Gap at Default T",
      "layer": [
        {"data": {"name": "series"}, "transform": [{"filter": "datum.p == 9"}],
         "mark": {"type": "line", "interpolate": "monotone", "strokeWidth": 1.4},
         "encoding": {
           "x": {"field": "t", "type": "quantitative", "title": null, "scale": {"domain": [272, 1028], "nice": false, "zero": false}, "axis": {"values": [300, 400, 500, 600, 700, 800, 900, 1000]}},
           "y": {"field": "v", "type": "quantitative", "title": null, "scale": {"domain": [-0.0394, 0.0202], "nice": false, "zero": false}, "axis": {"values": [-0.03, -0.01, 0, 0.01, 0.02], "format": ".2f", "labelOverlap": false, "labelExpr": "(datum.value < 0 ? '-' : '') + format(abs(datum.value), '.2f')"}},
           "color": {"field": "s", "type": "nominal", "scale": {"domain": ["Policy", "Baseline"], "range": ["#DD2C2C", "#111111"]}, "legend": {"title": null, "orient": "none", "legendX": 8, "legendY": -19.5, "direction": "horizontal"}}
         }},
        {"data": {"values": [{"t": 500}]},
         "mark": {"type": "rule", "color": "#E27A7A", "strokeWidth": 2},
         "encoding": {"x": {"field": "t", "type": "quantitative", "title": null, "scale": {"domain": [272, 1028], "nice": false, "zero": false}}}},
        {"data": {"values": [{"v": 0}]},
         "mark": {"type": "rule", "color": "#444444", "strokeWidth": 1.6},
         "encoding": {"y": {"field": "v", "type": "quantitative", "title": null, "scale": {"domain": [-0.0394, 0.0202], "nice": false, "zero": false}, "axis": {"values": [-0.03, -0.01, 0, 0.01, 0.02], "format": ".2f", "labelOverlap": false, "labelExpr": "(datum.value < 0 ? '-' : '') + format(abs(datum.value), '.2f')"}}}}
      ]
    }
  ]
}
